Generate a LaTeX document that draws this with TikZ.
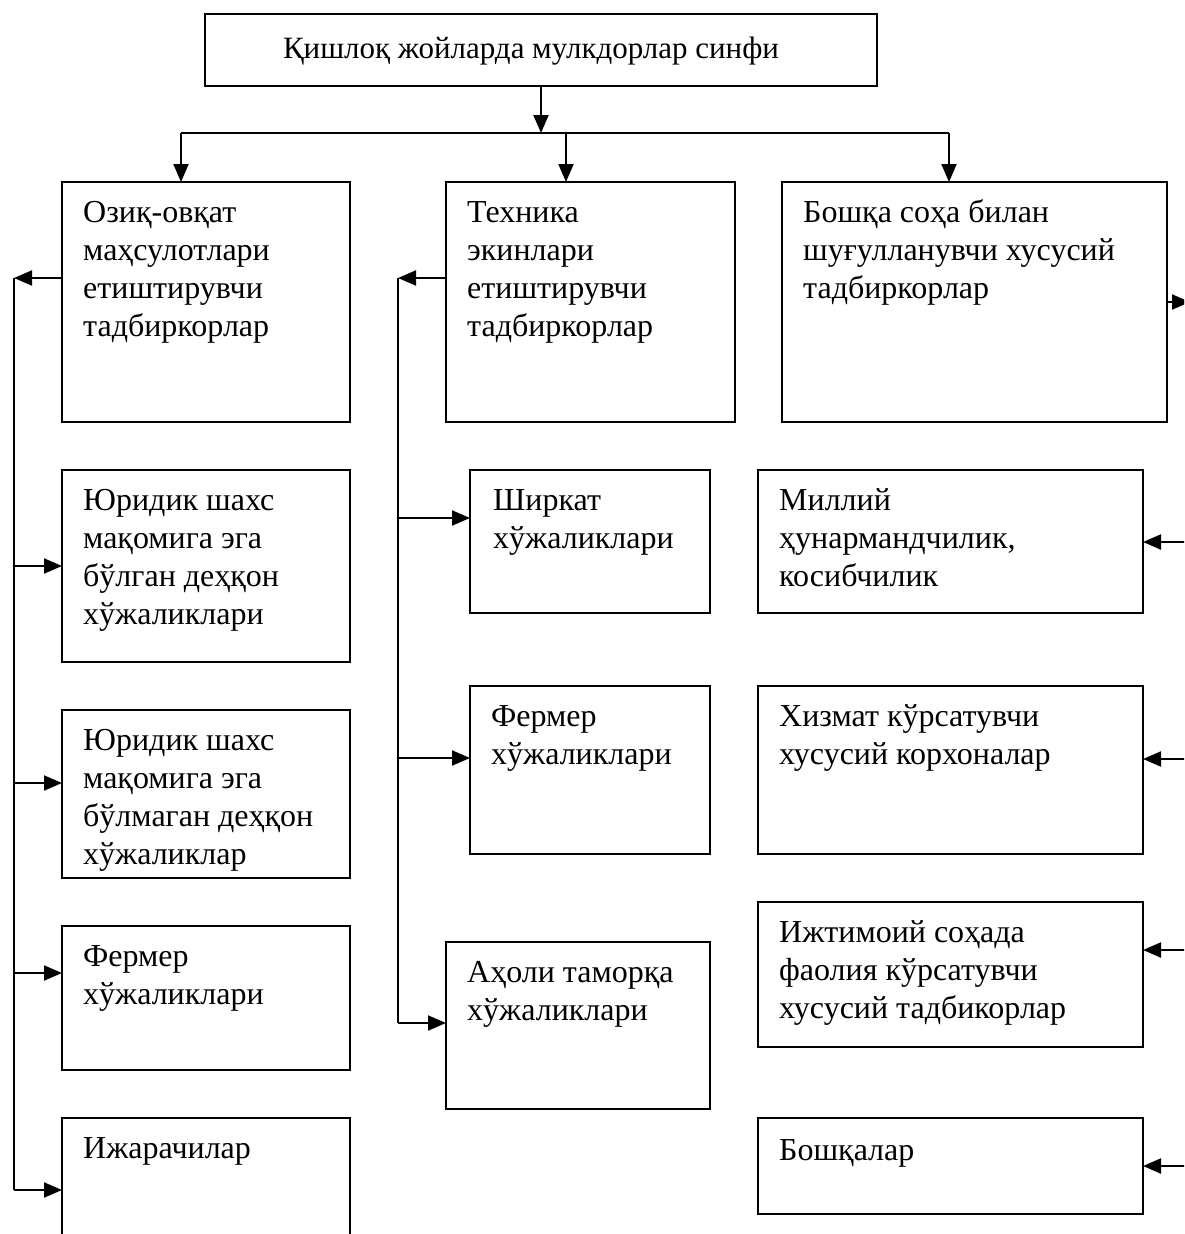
\documentclass[tikz,border=0pt]{standalone}
\usepackage{fontspec}
\setmainfont{Liberation Serif}
\usetikzlibrary{arrows.meta}
\begin{document}
\begin{tikzpicture}[x=1pt,y=-1pt,
  box/.style={draw, line width=2pt, inner sep=0pt, outer sep=0pt, anchor=north west},
  txt/.style={anchor=north west, inner sep=0pt, align=left, font=\fontsize{32}{38}\selectfont},
  conn/.style={line width=2pt},
  arr/.style={conn, -{Triangle[length=18pt,width=15pt]}}]
\useasboundingbox (0,0) rectangle (1184,1234);
\clip (0,0) rectangle (1184,1234);
% title
\node[box, minimum width=672pt, minimum height=72pt] (T) at (205,14) {};
\node[anchor=base, inner sep=0pt, font=\fontsize{31}{38}\selectfont] (Tt) at ([shift={(-10,44)}]T.north) {Қишлоқ жойларда мулкдорлар синфи};
% column 1
\node[box, minimum width=288pt, minimum height=240pt] (A1) at (62,182) {};
\node[txt] at ([shift={(21,10)}]A1.north west) {\rule{0pt}{30pt}Озиқ-овқат\\маҳсулотлари\\етиштирувчи\\тадбиркорлар};
\node[box, minimum width=288pt, minimum height=192pt] (A2) at (62,470) {};
\node[txt] at ([shift={(21,10)}]A2.north west) {\rule{0pt}{30pt}Юридик шахс\\мақомига эга\\бўлган деҳқон\\хўжаликлари};
\node[box, minimum width=288pt, minimum height=168pt] (A3) at (62,710) {};
\node[txt] at ([shift={(21,10)}]A3.north west) {\rule{0pt}{30pt}Юридик шахс\\мақомига эга\\бўлмаган деҳқон\\хўжаликлар};
\node[box, minimum width=288pt, minimum height=144pt] (A4) at (62,926) {};
\node[txt] at ([shift={(21,10)}]A4.north west) {\rule{0pt}{30pt}Фермер\\хўжаликлари};
\node[box, minimum width=288pt, minimum height=160pt] (A5) at (62,1118) {};
\node[txt] at ([shift={(21,10)}]A5.north west) {\rule{0pt}{30pt}Ижарачилар};
% column 2
\node[box, minimum width=289pt, minimum height=240pt] (B1) at (446,182) {};
\node[txt] at ([shift={(21,10)}]B1.north west) {\rule{0pt}{30pt}Техника\\экинлари\\етиштирувчи\\тадбиркорлар};
\node[box, minimum width=240pt, minimum height=143pt] (B2) at (470,470) {};
\node[txt] at ([shift={(23,10)}]B2.north west) {\rule{0pt}{30pt}Ширкат\\хўжаликлари};
\node[box, minimum width=240pt, minimum height=168pt] (B3) at (470,686) {};
\node[txt] at ([shift={(21,10)}]B3.north west) {\rule{0pt}{30pt}Фермер\\хўжаликлари};
\node[box, minimum width=264pt, minimum height=167pt] (B4) at (446,942) {};
\node[txt] at ([shift={(21,10)}]B4.north west) {\rule{0pt}{30pt}Аҳоли таморқа\\хўжаликлари};
% column 3
\node[box, minimum width=385pt, minimum height=240pt] (C1) at (782,182) {};
\node[txt] at ([shift={(21,10)}]C1.north west) {\rule{0pt}{30pt}Бошқа соҳа билан\\шуғулланувчи хусусий\\тадбиркорлар};
\node[box, minimum width=385pt, minimum height=143pt] (C2) at (758,470) {};
\node[txt] at ([shift={(21,10)}]C2.north west) {\rule{0pt}{30pt}Миллий\\ҳунармандчилик,\\косибчилик};
\node[box, minimum width=385pt, minimum height=168pt] (C3) at (758,686) {};
\node[txt] at ([shift={(21,10)}]C3.north west) {\rule{0pt}{30pt}Хизмат кўрсатувчи\\хусусий корхоналар};
\node[box, minimum width=385pt, minimum height=145pt] (C4) at (758,902) {};
\node[txt] at ([shift={(21,10)}]C4.north west) {\rule{0pt}{30pt}Ижтимоий соҳада\\фаолия кўрсатувчи\\хусусий тадбикорлар};
\node[box, minimum width=385pt, minimum height=96pt] (C5) at (758,1118) {};
\node[txt] at ([shift={(21,12)}]C5.north west) {\rule{0pt}{30pt}Бошқалар};
% top connectors
\coordinate (hub) at (541,133);
\coordinate (h1) at (181,133);
\coordinate (h2) at (566,133);
\coordinate (h3) at (949,133);
\draw[arr] (T.south) -- (hub);
\draw[conn] (h1) -- (h3);
\draw[arr] (h1) -- (h1 |- A1.north);
\draw[arr] (h2) -- (h2 |- B1.north);
\draw[arr] (h3) -- (h3 |- C1.north);
% left bus
\coordinate (L1) at (14,278);
\coordinate (L2) at (14,566);
\coordinate (L3) at (14,783);
\coordinate (L4) at (14,973);
\coordinate (L5) at (14,1190);
\draw[arr] (A1.west |- L1) -- (L1);
\draw[conn] (L1) -- (L5);
\draw[arr] (L2) -- (L2 -| A2.west);
\draw[arr] (L3) -- (L3 -| A3.west);
\draw[arr] (L4) -- (L4 -| A4.west);
\draw[arr] (L5) -- (L5 -| A5.west);
% middle bus
\coordinate (M1) at (398,278);
\coordinate (M2) at (398,518);
\coordinate (M3) at (398,758);
\coordinate (M4) at (398,1023);
\draw[arr] (B1.west |- M1) -- (M1);
\draw[conn] (M1) -- (M4);
\draw[arr] (M2) -- (M2 -| B2.west);
\draw[arr] (M3) -- (M3 -| B3.west);
\draw[arr] (M4) -- (M4 -| B4.west);
% right side
\coordinate (R1) at (1190,302);
\coordinate (R2) at (1192,542);
\coordinate (R3) at (1192,759);
\coordinate (R4) at (1192,950);
\coordinate (R5) at (1192,1166);
\draw[arr] (C1.east |- R1) -- (R1);
\draw[arr] (R2) -- (R2 -| C2.east);
\draw[arr] (R3) -- (R3 -| C3.east);
\draw[arr] (R4) -- (R4 -| C4.east);
\draw[arr] (R5) -- (R5 -| C5.east);
\end{tikzpicture}
\end{document}
